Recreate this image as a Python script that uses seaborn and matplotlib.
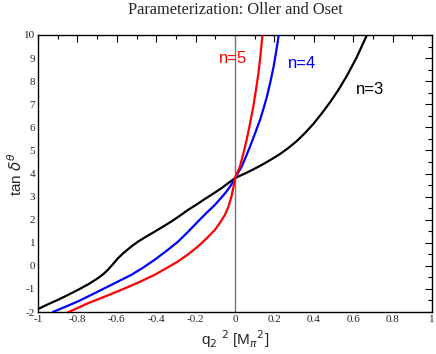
import numpy as np
import pandas as pd
import seaborn as sns
import matplotlib
matplotlib.use("Agg")
import matplotlib.pyplot as plt
from matplotlib.ticker import MultipleLocator

# n=3 (black)
q_n3 = [-1.0, -0.95, -0.898, -0.85, -0.797, -0.745, -0.695, -0.67, -0.645, -0.62, -0.594, -0.568, -0.543, -0.518, -0.492, -0.45, -0.408, -0.365, -0.323, -0.28, -0.239, -0.196, -0.154, -0.11, -0.069, -0.035, 0.0,
        0.035, 0.07, 0.107, 0.144, 0.186, 0.228, 0.27, 0.313, 0.355, 0.398, 0.44, 0.482, 0.525, 0.567, 0.617, 0.667]
t_n3 = [-1.87, -1.67, -1.47, -1.27, -1.04, -0.80, -0.53, -0.37, -0.17, 0.07, 0.33, 0.54, 0.72, 0.89, 1.05, 1.27, 1.48, 1.70, 1.92, 2.17, 2.42, 2.65, 2.89, 3.13, 3.36, 3.58, 3.80,
        3.94, 4.08, 4.24, 4.41, 4.62, 4.84, 5.10, 5.40, 5.75, 6.15, 6.60, 7.08, 7.62, 8.22, 9.02, 9.95]

# n=4 (blue)
q_n4 = [-0.924, -0.86, -0.797, -0.73, -0.662, -0.594, -0.526, -0.467, -0.408, -0.349, -0.289, -0.239, -0.188, -0.145, -0.102, -0.072, -0.043, -0.02, 0.0,
        0.017, 0.034, 0.055, 0.076, 0.101, 0.127, 0.145, 0.162, 0.18, 0.196, 0.209, 0.221]
t_n4 = [-2.0, -1.77, -1.54, -1.26, -0.97, -0.68, -0.39, -0.08, 0.26, 0.64, 1.05, 1.47, 1.92, 2.29, 2.64, 2.93, 3.22, 3.50, 3.80,
        4.05, 4.30, 4.72, 5.16, 5.72, 6.32, 6.82, 7.33, 7.98, 8.63, 9.28, 9.95]

# n=5 (red)
q_n5 = [-0.857, -0.80, -0.746, -0.66, -0.577, -0.49, -0.408, -0.35, -0.289, -0.238, -0.188, -0.145, -0.102, -0.076, -0.051, -0.034, -0.018, -0.008, 0.0,
        0.012, 0.025, 0.042, 0.059, 0.076, 0.093, 0.106, 0.119, 0.129, 0.139]
t_n5 = [-2.05, -1.83, -1.62, -1.33, -1.04, -0.72, -0.39, -0.11, 0.19, 0.50, 0.84, 1.18, 1.56, 1.87, 2.21, 2.55, 3.0, 3.40, 3.80,
        4.05, 4.30, 4.85, 5.45, 6.15, 6.90, 7.60, 8.34, 9.10, 9.95]

series_labels = ["n=3", "n=4", "n=5"]
series_colors = ["black", "blue", "red"]

sns.set_style("white")
plt.rcParams['mathtext.fontset'] = 'dejavusans'

fig = plt.figure(figsize=(4.36, 3.54), dpi=100)
ax = fig.add_axes([38/436, 1-312/354, (432-38)/436, (312-35)/354])

ax.axvline(0, color="#777777", lw=1.0, zorder=1)

for q, t, c in zip([q_n3, q_n4, q_n5], [t_n3, t_n4, t_n5], series_colors):
    df = pd.DataFrame({"q": q, "t": t})
    sns.lineplot(data=df, x="q", y="t", ax=ax, color=c, lw=1.6, sort=False, estimator=None, zorder=3)

ax.set_xlim(-1, 1)
ax.set_ylim(-2, 10)
ax.xaxis.set_minor_locator(MultipleLocator(0.1))
ax.yaxis.set_minor_locator(MultipleLocator(0.5))
ax.tick_params(which="both", direction="in", top=True, right=True, color="black", width=0.8)
ax.tick_params(which="major", length=5)
ax.tick_params(which="minor", length=3)
for s in ax.spines.values():
    s.set_color("black"); s.set_linewidth(1.0)

xt = [-1, -0.8, -0.6, -0.4, -0.2, 0, 0.2, 0.4, 0.6, 0.8, 1]
ax.set_xticks(xt)
ax.set_xticklabels(["-1", "-0.8", "-0.6", "-0.4", "-0.2", "0", "0.2", "0.4", "0.6", "0.8", "1"],
                   fontfamily="Liberation Serif", fontsize=8)
yt = list(range(-2, 11))
ax.set_yticks(yt)
ax.set_yticklabels([str(v) for v in yt], fontfamily="Liberation Serif", fontsize=8)
ax.tick_params(axis="x", pad=2)
ax.tick_params(axis="y", pad=2)

ax.set_xlabel(r"q$_2$ $^2$ [M$_\pi$$^2$]", fontsize=11, fontfamily="Liberation Sans", labelpad=3)
ax.set_ylabel(r"tan $\delta^\theta$", fontsize=11, fontfamily="Liberation Sans", labelpad=-1)
ax.set_title("Parameterization: Oller and Oset", fontsize=11.8, fontfamily="Liberation Serif", pad=15)

ax.text(-0.01, 8.97, "n=5", color="red", fontsize=12, fontfamily="Liberation Sans", ha="center", va="center")
ax.text(0.34, 8.75, "n=4", color="blue", fontsize=12, fontfamily="Liberation Sans", ha="center", va="center")
ax.text(0.685, 7.65, "n=3", color="black", fontsize=12, fontfamily="Liberation Sans", ha="center", va="center")

ax.set_facecolor("white")
fig.patch.set_facecolor("white")
fig.savefig("out.png", dpi=100)
